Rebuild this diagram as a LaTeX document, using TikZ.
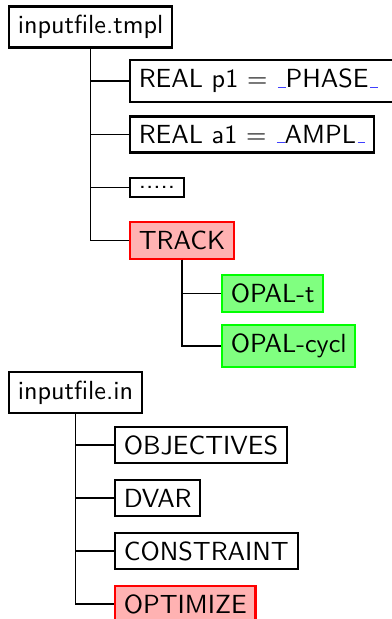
\documentclass[tikz,border=0pt]{standalone}
\usepackage{xcolor}
\begin{document}
\begin{tikzpicture}[x=0.3817pt,y=-0.3817pt,
  box/.style={draw, line width=0.8pt, anchor=west, font=\sffamily, inner sep=3.33pt},
  redbox/.style={box, draw=red, fill=red!30},
  greenbox/.style={box, draw=green, fill=green!50},
  conn/.style={line width=0.6pt}]
\useasboundingbox (0,0) rectangle (391,619);
\newcommand{\bu}{{\color{blue!75}\leavevmode\kern.06em\vbox{\hrule height.5pt width.3em}}}
% template tree
\node[box] (tmpl) at (8,27) {inputfile.tmpl};
\node[box, inner xsep=3.33pt] (p1) at (129,81) {REAL p1 $=$ \bu PHASE\bu\kern 14pt};
\node[box] (a1) at (129,134.5) {REAL a1 $=$ \bu AMPL\bu};
\node[box] (dots) at (129,187.5) {.....};
\node[redbox] (track) at (129,240.5) {TRACK};
\node[greenbox] (opalt) at (221,293.5) {OPAL-t};
\node[greenbox] (opalc) at (221,346) {OPAL-cycl};
\draw[conn] (tmpl.south) |- (p1.west);
\draw[conn] (tmpl.south) |- (a1.west);
\draw[conn] (tmpl.south) |- (dots.west);
\draw[conn] (tmpl.south) |- (track.west);
\draw[conn] (track.south) |- (opalt.west);
\draw[conn] (track.south) |- (opalc.west);
% input file tree
\node[box] (in) at (8,392.5) {inputfile.in};
\node[box] (obj) at (114,445) {OBJECTIVES};
\node[box] (dvar) at (114,498) {DVAR};
\node[box] (cons) at (114,551) {CONSTRAINT};
\node[redbox] (opt) at (114,604) {OPTIMIZE};
\draw[conn] (in.south) |- (obj.west);
\draw[conn] (in.south) |- (dvar.west);
\draw[conn] (in.south) |- (cons.west);
\draw[conn] (in.south) |- (opt.west);
\end{tikzpicture}
\end{document}
